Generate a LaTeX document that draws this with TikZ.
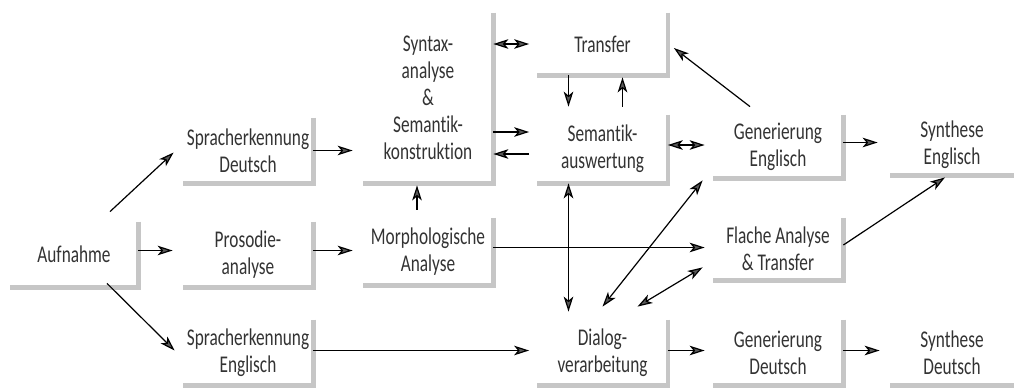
\documentclass[tikz,border=0pt]{standalone}
\usepackage{fontspec}
\setmainfont{Carlito}[FakeStretch=0.72, Ligatures=NoCommon]
\usetikzlibrary{arrows.meta}

\tikzset{
  box/.style={align=center, inner sep=0pt, minimum width=65pt, minimum height=32.5pt,
    font=\fontsize{12}{13.5}\selectfont, text=black!80},
  rim/.style={line width=2.4pt, draw=gray!45},
  arr/.style={-{Stealth[length=7.5pt, width=4.8pt, inset=2pt, fill=gray!70!black]}, line width=0.6pt},
  dbl/.style={{Stealth[length=7.5pt, width=4.8pt, inset=2pt, fill=gray!70!black]}-{Stealth[length=7.5pt, width=4.8pt, inset=2pt, fill=gray!70!black]}, line width=0.6pt}
}

\begin{document}
\begin{tikzpicture}[x=0.5pt, y=-0.5pt]
    \useasboundingbox (0,0) rectangle (1014,387);

    % boxes
    \node[box, minimum width=64pt] (auf) at (74,254.5) {Aufnahme};
    \node[box] (spd) at (248,150.5) {Spracherkennung\\Deutsch};
    \node[box] (pro) at (248,254.5) {Prosodie-\\analyse};
    \node[box] (spe) at (248,352.5) {Spracherkennung\\Englisch};
    \node[box, minimum height=85pt] (syn) at (428,98) {Syntax-\\analyse\\\&\\Semantik-\\konstruktion};
    \node[box, minimum height=31pt] (tra) at (602.5,44) {Transfer};
    \node[box, minimum height=34pt] (sem) at (602.5,149) {Semantik-\\auswertung};
    \node[box, minimum height=33.5pt] (mor) at (428,251.5) {Morphologische\\Analyse};
    \node[box] (dia) at (602.5,352.5) {Dialog-\\verarbeitung};
    \node[box, minimum height=31.5pt] (gee) at (778,146.5) {Generierung\\Englisch};
    \node[box, minimum height=31pt] (fla) at (778,249) {Flache Analyse\\\& Transfer};
    \node[box] (ged) at (778,352.5) {Generierung\\Deutsch};
    \node[box, minimum width=62pt, minimum height=30pt] (sye) at (952,145) {Synthese\\Englisch};
    \node[box, minimum width=62pt] (syd) at (952,352.5) {Synthese\\Deutsch};

    % shaded edges
    \draw[rim] (auf.north east) -- (auf.south east) -- (auf.south west);
    \draw[rim] (spd.north east) -- (spd.south east) -- (spd.south west);
    \draw[rim] (pro.north east) -- (pro.south east) -- (pro.south west);
    \draw[rim] (spe.north east) -- (spe.south east) -- (spe.south west);
    \draw[rim] (syn.north east) -- (syn.south east) -- (syn.south west);
    \draw[rim] (tra.north east) -- (tra.south east) -- (tra.south west);
    \draw[rim] (sem.north east) -- (sem.south east) -- (sem.south west);
    \draw[rim] (mor.north east) -- (mor.south east) -- (mor.south west);
    \draw[rim] (dia.north east) -- (dia.south east) -- (dia.south west);
    \draw[rim] (gee.north east) -- (gee.south east) -- (gee.south west);
    \draw[rim] (fla.north east) -- (fla.south east) -- (fla.south west);
    \draw[rim] (ged.north east) -- (ged.south east) -- (ged.south west);
    \draw[rim] (sye.south east) -- (sye.south west);
    \draw[rim] (syd.south east) -- (syd.south west);

    % connections
    \draw[arr] ([xshift=18pt,yshift=5pt]auf.north) -- ([xshift=-4.5pt,yshift=-1pt]spd.west);
    \draw[arr] ([yshift=2pt]auf.east) -- ([xshift=-5pt,yshift=2pt]auf.east -| pro.west);
    \draw[arr] ([xshift=16.5pt,yshift=2pt]auf.south) -- ([xshift=-4pt,yshift=1pt]spe.west);
    \draw[arr] (spd.east) -- ([xshift=-5pt]spd.east -| syn.west);
    \draw[arr] ([yshift=2pt]pro.east) -- ([xshift=-5pt,yshift=2pt]pro.east -| mor.west);
    \draw[arr] ([yshift=1pt]spe.east) -- ([xshift=-4pt,yshift=1pt]spe.east -| dia.west);
    \draw[arr] ([xshift=-5.5pt,yshift=4pt]mor.north) -- ([xshift=-5.5pt,yshift=-1pt]syn.south);
    \draw[dbl] (tra.west -| syn.east) -- ([xshift=-4pt]tra.west);
    \draw[arr] ([yshift=8.5pt]sem.west -| syn.east) -- ([xshift=-4pt,yshift=8.5pt]sem.west);
    \draw[arr] ([xshift=-4pt,yshift=-2.5pt]sem.west) -- ([yshift=-2.5pt]sem.west -| syn.east);
    \draw[arr] ([xshift=-17pt]tra.south) -- ([xshift=-17pt,yshift=4pt]sem.north);
    \draw[arr] ([xshift=10pt,yshift=4pt]sem.north) -- ([xshift=10pt,yshift=-1pt]tra.south);
    \draw[dbl] ([xshift=-17pt]sem.south) -- ([xshift=-17pt,yshift=4pt]dia.north);
    \draw[dbl] ([yshift=2pt]sem.east) -- ([xshift=-4pt,yshift=2pt]sem.east -| gee.west);
    \draw[arr] ([xshift=-14pt,yshift=4pt]gee.north) -- ([xshift=3pt,yshift=-2pt]tra.east);
    \draw[arr] ([yshift=2pt]gee.east) -- ([xshift=-6pt,yshift=2pt]gee.east -| sye.west);
    \draw[arr] ([yshift=2pt]mor.east) -- ([xshift=-4pt,yshift=2pt]mor.east -| fla.west);
    \draw[arr] ([yshift=2pt]fla.east) -- ([xshift=-3.5pt,yshift=-1pt]sye.south);
    \draw[dbl] ([yshift=6.5pt]dia.north) -- ([xshift=-5pt,yshift=-1pt]gee.south west);
    \draw[dbl] ([xshift=17.5pt,yshift=6.5pt]dia.north) -- ([xshift=-5pt,yshift=6.5pt]fla.south west);
    \draw[arr] ([yshift=1pt]dia.east) -- ([xshift=-4pt,yshift=1pt]dia.east -| ged.west);
    \draw[arr] ([yshift=1pt]ged.east) -- ([xshift=-5pt,yshift=1pt]ged.east -| syd.west);
  \end{tikzpicture}
\end{document}
